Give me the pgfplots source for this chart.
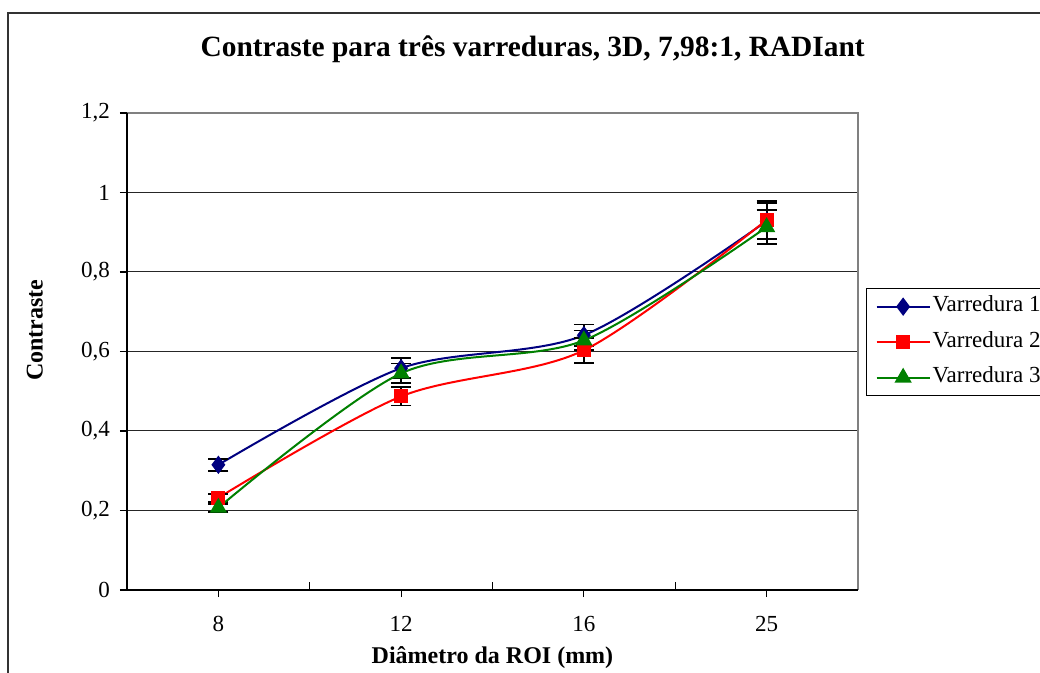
\documentclass[border=0pt]{standalone}
\usepackage{fontspec}
\setmainfont{Liberation Serif}
\usepackage{pgfplots}
\pgfplotsset{compat=1.18}
\definecolor{navyb}{RGB}{0,0,128}
\definecolor{redb}{RGB}{255,0,0}
\definecolor{greenb}{RGB}{0,128,0}
\begin{document}
\begin{tikzpicture}
\useasboundingbox (0,0) rectangle (520pt,-336.5pt);
\clip (0,0) rectangle (520pt,-336.5pt);
\fill[white] (0,0) rectangle (520pt,-336.5pt);
\draw[line width=0.7pt, black!80] (4pt,-6.5pt) rectangle (560pt,-380pt);
\begin{axis}[
  at={(63.5pt,-295pt)}, anchor=south west,
  scale only axis, width=365.5pt, height=238.5pt,
  xmin=-0.5, xmax=3.5, ymin=0, ymax=1.2,
  xtick={0,1,2,3}, xticklabels={8,12,16,25},
  ytick={0,0.2,0.4,0.6,0.8,1,1.2},
  yticklabel style={/pgf/number format/fixed, /pgf/number format/precision=1, /pgf/number format/use comma, /pgf/number format/assume math mode=true, xshift=-1.5pt},
  xticklabel style={yshift=-6pt},
  tick label style={font=\fontsize{11.5}{13}\selectfont},
  xtick pos=bottom, ytick pos=left,
  tick align=outside,
  major tick length=3.5pt,
  tick style={black, line width=0.6pt},
  extra x ticks={0.5,1.5,2.5},
  extra x tick labels={},
  extra x tick style={tick align=inside, major tick length=3.8pt, grid=none},
  ymajorgrids, major grid style={black!85, line width=0.5pt},
  axis line style={draw=none},
  title={Contraste para três varreduras, 3D, 7,98:1, RADIant},
  title style={at={(axis description cs:0.555,1.109)}, anchor=center, font=\bfseries\fontsize{14.7}{17}\selectfont},
  xlabel={Diâmetro da ROI (mm)},
  xlabel style={at={(axis description cs:0.5,-0.1426)}, anchor=center, font=\bfseries\fontsize{12}{14}\selectfont},
  ylabel={Contraste},
  ylabel style={at={(axis description cs:-0.126,0.545)}, anchor=center, rotate=0, font=\bfseries\fontsize{12}{14}\selectfont},
  legend style={at={(rel axis cs:1.011,0.633)}, anchor=north west, draw=black, line width=0.6pt, fill=white,
    font=\fontsize{11.5}{13}\selectfont, row sep=5.75pt, inner xsep=4.5pt, inner ysep=3pt,
    nodes={inner sep=1pt, text height=7.5pt, text depth=2.5pt}},
  legend cell align=left,
  legend image code/.code={\draw[mark repeat=2,mark phase=2,#1] plot coordinates {(0pt,0pt) (13.25pt,0pt) (26.5pt,0pt)};},
  clip=false,
]
\draw[black!50, line width=0.6pt] (rel axis cs:0,1) -- (rel axis cs:1,1) -- (rel axis cs:1,0);
\draw[black, line width=0.6pt] (rel axis cs:0,1) -- (rel axis cs:0,0) -- (rel axis cs:1,0);
\addplot[color=navyb, line width=1pt, smooth, mark=diamond*, mark size=3.8pt, mark options={solid},
  error bars/.cd, y dir=both, y explicit, error bar style={black, line width=0.9pt},
  error mark options={rotate=90, black, mark size=5pt, line width=0.9pt}]
  coordinates {(0,0.315) +- (0,0.015) (1,0.558) +- (0,0.025) (2,0.641) +- (0,0.027) (3,0.928) +- (0,0.045)};
\addlegendentry{Varredura 1}
\addplot[color=redb, line width=1pt, smooth, mark=square*, mark size=3pt, mark options={solid},
  error bars/.cd, y dir=both, y explicit, error bar style={black, line width=0.9pt},
  error mark options={rotate=90, black, mark size=5pt, line width=0.9pt}]
  coordinates {(0,0.232) +- (0,0.01) (1,0.487) +- (0,0.023) (2,0.603) +- (0,0.031) (3,0.931) +- (0,0.047)};
\addlegendentry{Varredura 2}
\addplot[color=greenb, line width=1pt, smooth, mark=triangle*, mark size=4pt, mark options={solid},
  error bars/.cd, y dir=both, y explicit, error bar style={black, line width=0.9pt},
  error mark options={rotate=90, black, mark size=5pt, line width=0.9pt}]
  coordinates {(0,0.207) +- (0,0.01) (1,0.545) +- (0,0.025) (2,0.628) +- (0,0.025) (3,0.913) +- (0,0.042)};
\addlegendentry{Varredura 3}
\end{axis}
\end{tikzpicture}
\end{document}
